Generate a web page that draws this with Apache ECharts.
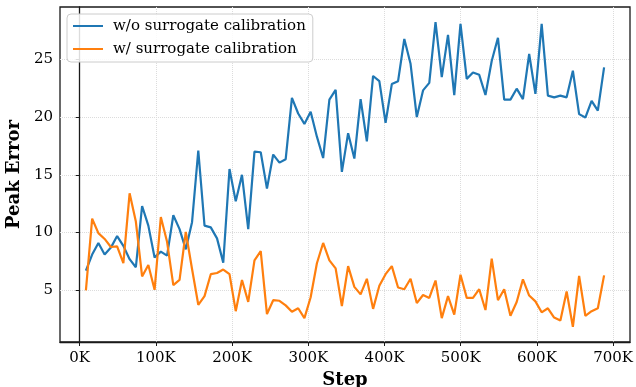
<!DOCTYPE html>
<html>
<head>
<meta charset="utf-8">
<script src="https://cdn.jsdelivr.net/npm/echarts@6/dist/echarts.min.js"></script>
<style>
  html, body { margin: 0; padding: 0; background: #fff; }
  #chart { width: 636px; height: 387px; }
</style>
</head>
<body>
<div id="chart"></div>
<script>
const steps = [8192, 16384, 24576, 32768, 40960, 49152, 57344, 65536, 73728, 81920,
    90112, 98304, 106496, 114688, 122880, 131072, 139264, 147456, 155648, 163840,
    172032, 180224, 188416, 196608, 204800, 212992, 221184, 229376, 237568, 245760,
    253952, 262144, 270336, 278528, 286720, 294912, 303104, 311296, 319488, 327680,
    335872, 344064, 352256, 360448, 368640, 376832, 385024, 393216, 401408, 409600,
    417792, 425984, 434176, 442368, 450560, 458752, 466944, 475136, 483328, 491520,
    499712, 507904, 516096, 524288, 532480, 540672, 548864, 557056, 565248, 573440,
    581632, 589824, 598016, 606208, 614400, 622592, 630784, 638976, 647168, 655360,
    663552, 671744, 679936, 688128];

// w/o surrogate calibration
const noCalib = [6.7, 8.1, 9.1, 8.1, 8.7, 9.7, 8.85, 7.7, 7.0, 12.3,
    10.6, 7.85, 8.35, 8.0, 11.5, 10.3, 8.55, 10.9, 17.1, 10.6,
    10.45, 9.5, 7.4, 15.5, 12.7, 15.0, 10.3, 17.0, 16.95, 13.8,
    16.75, 16.05, 16.35, 21.65, 20.3, 19.4, 20.45, 18.3, 16.45, 21.5,
    22.35, 15.25, 18.6, 16.4, 21.55, 17.9, 23.55, 23.1, 19.5, 22.85,
    23.1, 26.75, 24.6, 20.0, 22.3, 22.95, 28.2, 23.45, 27.1, 21.9,
    28.05, 23.3, 23.85, 23.65, 21.9, 24.85, 26.85, 21.5, 21.5, 22.45,
    21.55, 25.45, 22.0, 28.05, 21.85, 21.7, 21.85, 21.7, 24.0, 20.25,
    19.95, 21.4, 20.55, 24.3];

// w/ surrogate calibration
const withCalib = [5.0, 11.2, 9.95, 9.45, 8.75, 8.8, 7.35, 13.4, 10.95, 6.2,
    7.2, 5.05, 11.35, 9.2, 5.45, 5.9, 10.05, 6.85, 3.75, 4.5,
    6.4, 6.5, 6.8, 6.4, 3.2, 5.9, 4.0, 7.6, 8.4, 2.95,
    4.15, 4.1, 3.7, 3.15, 3.45, 2.6, 4.4, 7.35, 9.1, 7.6,
    6.9, 3.65, 7.1, 5.3, 4.65, 6.0, 3.4, 5.4, 6.4, 7.1,
    5.25, 5.1, 6.0, 3.9, 4.6, 4.35, 5.85, 2.6, 4.5, 2.9,
    6.35, 4.35, 4.35, 5.1, 3.3, 7.75, 4.15, 5.1, 2.8, 4.0,
    5.95, 4.55, 4.05, 3.1, 3.45, 2.65, 2.4, 4.9, 1.85, 6.25,
    2.8, 3.2, 3.45, 6.3];

const seriesNames = ['w/o surrogate calibration', 'w/ surrogate calibration'];
const xTicks = [0, 100000, 200000, 300000, 400000, 500000, 600000, 700000];
const yTicks = [5, 10, 15, 20, 25];

const chart = echarts.init(document.getElementById('chart'));

// matplotlib-like 5% margins
let xLo = steps[0], xHi = steps[steps.length - 1];
let xPad = (xHi - xLo) * 0.05;
let allY = noCalib.concat(withCalib);
let yLo = Math.min.apply(null, allY), yHi = Math.max.apply(null, allY);
let yPad = (yHi - yLo) * 0.05;

const font = 'DejaVu Serif';

function pairs(vals) {
    return vals.map(function (v, i) { return [steps[i], v]; });
}

option = {
    animation: false,
    textStyle: { fontFamily: font },
    grid: {
        left: 60,
        right: 6,
        top: 7,
        bottom: 45,
        outerBoundsMode: 'none',
        containLabel: false,
        show: true,
        borderColor: '#1a1a1a',
        borderWidth: 1.3,
        backgroundColor: 'transparent'
    },
    legend: {
        left: 67,
        top: 14,
        orient: 'vertical',
        icon: 'rect',
        itemWidth: 30,
        itemHeight: 2,
        itemGap: 5,
        padding: [3, 7, 4, 6],
        backgroundColor: 'rgba(255,255,255,0.85)',
        borderColor: '#cccccc',
        borderWidth: 1,
        borderRadius: 4,
        data: seriesNames,
        textStyle: {
            fontFamily: font,
            fontSize: 15,
            color: '#000',
            lineHeight: 18,
            padding: [0, 0, 0, 5]
        }
    },
    xAxis: {
        type: 'value',
        min: xLo - xPad,
        max: xHi + xPad,
        name: 'Step',
        nameLocation: 'middle',
        nameGap: 28,
        nameTextStyle: { fontFamily: font, fontWeight: 'bold', fontSize: 18, color: '#000' },
        axisLine: { show: true, lineStyle: { color: '#1a1a1a', width: 1.3 } },
        axisTick: { show: true, length: 4, customValues: xTicks, lineStyle: { color: '#1a1a1a' } },
        axisLabel: {
            customValues: xTicks,
            fontFamily: font,
            fontSize: 15,
            color: '#000',
            margin: 9,
            formatter: function (v) { return Math.round(v / 1000) + 'K'; }
        },
        splitLine: { show: true, lineStyle: { type: 'dotted', color: '#dcdcdc', width: 1 } }
    },
    yAxis: {
        type: 'value',
        min: yLo - yPad,
        max: yHi + yPad,
        name: 'Peak Error',
        nameLocation: 'middle',
        nameGap: 32,
        nameTextStyle: { fontFamily: font, fontWeight: 'bold', fontSize: 18, color: '#000' },
        axisLine: { show: true, lineStyle: { color: '#1a1a1a', width: 1.3 } },
        axisTick: { show: true, length: 4, customValues: yTicks, lineStyle: { color: '#1a1a1a' } },
        axisLabel: {
            customValues: yTicks,
            fontFamily: font,
            fontSize: 15,
            color: '#000',
            margin: 7
        },
        splitLine: { show: true, lineStyle: { type: 'dotted', color: '#dcdcdc', width: 1 } }
    },
    series: [
        {
            name: seriesNames[0],
            type: 'line',
            data: pairs(noCalib),
            symbol: 'none',
            lineStyle: { color: '#1f77b4', width: 2.2 },
            itemStyle: { color: '#1f77b4' }
        },
        {
            name: seriesNames[1],
            type: 'line',
            data: pairs(withCalib),
            symbol: 'none',
            lineStyle: { color: '#ff7f0e', width: 2.2 },
            itemStyle: { color: '#ff7f0e' }
        }
    ]
};
chart.setOption(option);
</script>
</body>
</html>
